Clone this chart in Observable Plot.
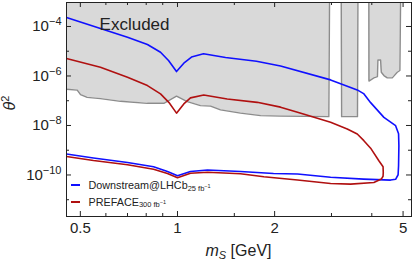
<!DOCTYPE html>
<html><head><meta charset="utf-8">
<script src="https://cdn.jsdelivr.net/npm/d3@7"></script>
<script src="https://cdn.jsdelivr.net/npm/@observablehq/plot@0.6"></script>
<style>
body{margin:0;background:#fff;}
#wrap{position:relative;width:415px;height:262px;font-family:"Liberation Sans",Arial,sans-serif;color:#222;}
.legend{position:absolute;left:71px;top:177px;font-size:10.8px;}
.legend .row{display:flex;align-items:center;height:16.5px;white-space:nowrap}
.legend .sw{width:9px;height:0;border-top:2px solid;margin-right:8.5px}
.legend .sb{font-size:7.5px;position:relative;top:3px}
.legend .sp{font-size:5.5px;position:relative;top:-3px}
</style></head><body><div id="wrap"></div>
<script>
// ---- data ----
const X_DOMAIN = [0.453, 5.31];
const Y_DOMAIN = [2.1e-12, 9.3e-4];
const Y_TOP = Y_DOMAIN[1];

const blueM = [0.453,0.590,0.700,0.807,0.886,0.938,0.993,1.051,1.105,1.204,1.409,1.757,2.086,2.981,3.606,3.773,3.967,4.361,4.741,4.842,4.853,4.842,4.826,4.741,4.574,3.773,2.981,2.355,1.984,1.567,1.239,1.097,1.0,0.931,0.843,0.700,0.549,0.453];
const blueT = [2.31e-4,7.56e-5,3.69e-5,1.87e-5,9.1e-6,4.2e-6,1.51e-6,3.49e-6,5.82e-6,7.85e-6,5.56e-6,3.94e-6,2.52e-6,6.95e-7,2.74e-7,1.94e-7,8.37e-8,2.13e-8,9.8e-9,4.66e-9,1.52e-9,2.36e-10,1.02e-10,6.7e-11,6.22e-11,6.82e-11,8.07e-11,1.09e-10,1.15e-10,1.39e-10,1.58e-10,1.39e-10,9.29e-11,1.39e-10,2.15e-10,3.21e-10,4.83e-10,7.02e-10];

const redM = [0.453,0.577,0.700,0.807,0.886,0.940,0.993,1.046,1.097,1.206,1.426,1.766,2.086,2.355,2.981,3.357,3.606,3.780,3.967,4.207,4.335,4.341,4.335,4.281,4.060,3.438,2.981,2.355,1.852,1.567,1.239,1.097,1.0,0.931,0.843,0.700,0.549,0.453];
const redT = [5.06e-6,2.25e-6,8.85e-7,4.08e-7,1.88e-7,8.61e-8,3.15e-8,7.41e-8,1.30e-7,1.69e-7,1.18e-7,8.61e-8,5.5e-8,3.39e-8,1.34e-8,7.22e-9,4.53e-9,2.43e-9,1.21e-9,3.76e-10,2.15e-10,1.26e-10,8.85e-11,6.82e-11,4.97e-11,4.28e-11,4.53e-11,6.22e-11,8.45e-11,1.12e-10,1.29e-10,1.17e-10,7.7e-11,1.15e-10,1.70e-10,2.59e-10,3.86e-10,5.61e-10];

const excl1M = [0.453,0.489,0.5006,0.525,0.577,0.666,0.806,0.907,0.993,1.072,1.178,1.266,1.359,1.567,1.809,2.086,2.944,2.959];
const excl1T = [2.90e-7,2.69e-7,1.77e-7,1.37e-7,1.22e-7,9.46e-8,7.85e-8,7.85e-8,1.53e-7,9.2e-8,6.34e-8,6.04e-8,4.25e-8,3.15e-8,2.49e-8,2.38e-8,2.27e-8,Y_TOP];
const excl2M = [3.217,3.225,3.612,3.623];
const excl2T = [Y_TOP,2.27e-8,2.27e-8,Y_TOP];
const excl3M = [3.917,3.920,4.060,4.165,4.178,4.259,4.281,4.361,4.467,4.629,4.797,4.888,4.912];
const excl3T = [Y_TOP,6.22e-7,8.38e-7,9.46e-7,4.41e-6,4.41e-6,1.41e-6,1.04e-6,8.38e-7,8.38e-7,1.41e-6,1.66e-6,Y_TOP];

const labelM = [0.736];
const labelT = [1.2e-4];
const labelText = ["Excluded"];

const xMajor = [0.5, 1, 2, 5];
const xMajorText = ["0.5", "1", "2", "5"];
const xMinor = [0.6, 0.7, 0.8, 0.9, 1.5, 3, 4];
const yMajor = [1e-10, 1e-8, 1e-6, 1e-4];
const yMajorExp = [-10, -8, -6, -4];
const yMinor = [1e-11, 1e-9, 1e-7, 1e-5];

// ---- build tables ----
const zip = (ms, ts) => ms.map((m, i) => ({m, t: ts[i]}));
const blue = zip(blueM, blueT);
const red = zip(redM, redT);
const blocks = [zip(excl1M, excl1T), zip(excl2M, excl2T), zip(excl3M, excl3T)];
const labels = labelM.map((m, i) => ({m, t: labelT[i], s: labelText[i]}));

const W = 415, H = 262, mL = 66, mR = 4, mT = 2, mB = 46;
const pw = W - mL - mR, ph = H - mT - mB;
const tickC = "#222";
const FILL = "#d9d9d9", EDGE = "#8c8c8c";

const marks = [];
for (const b of blocks) {
  marks.push(Plot.areaY(b, {x: "m", y1: "t", y2: () => Y_TOP, fill: FILL, clip: true}));
}
for (const b of blocks) {
  marks.push(Plot.line(b, {x: "m", y: "t", stroke: EDGE, strokeWidth: 1.4, clip: true}));
}
marks.push(
  Plot.line(blue, {x: "m", y: "t", stroke: "#1010ff", strokeWidth: 1.6, clip: true}),
  Plot.line(red, {x: "m", y: "t", stroke: "#b01010", strokeWidth: 1.6, clip: true}),
  Plot.text(labels, {x: "m", y: "t", text: "s", fontSize: 17, fill: "#222"}),
  Plot.frame({stroke: tickC, strokeWidth: 1}),
  // inward ticks on all four sides
  Plot.ruleX(xMajor, {x: d => d, insetTop: ph - 5, stroke: tickC}),
  Plot.ruleX(xMinor, {x: d => d, insetTop: ph - 3, stroke: tickC}),
  Plot.ruleX(xMajor, {x: d => d, insetBottom: ph - 5, stroke: tickC}),
  Plot.ruleX(xMinor, {x: d => d, insetBottom: ph - 3, stroke: tickC}),
  Plot.ruleY(yMajor, {y: d => d, insetRight: pw - 5, stroke: tickC}),
  Plot.ruleY(yMinor, {y: d => d, insetRight: pw - 3, stroke: tickC}),
  Plot.ruleY(yMajor, {y: d => d, insetLeft: pw - 5, stroke: tickC}),
  Plot.ruleY(yMinor, {y: d => d, insetLeft: pw - 3, stroke: tickC}),
  Plot.axisX(xMajor, {tickSize: 0, tickPadding: 6, fontSize: 15, label: null, text: (d, i) => xMajorText[i]}),
  Plot.axisY(yMajor, {tickSize: 0, tickPadding: 5, fontSize: 15, label: null, text: (d, i) => String(yMajorExp[i])})
);

const svg = Plot.plot({
  width: W, height: H,
  marginLeft: mL, marginRight: mR, marginTop: mT, marginBottom: mB,
  style: {fontFamily: "'Liberation Sans', Arial, sans-serif", color: "#222", background: "#fff", overflow: "visible"},
  x: {type: "log", domain: X_DOMAIN},
  y: {type: "log", domain: Y_DOMAIN},
  marks
});

// superscript exponents on the y tick labels
d3.select(svg).selectAll('[aria-label="y-axis tick label"] text').each(function() {
  const e = this.textContent;
  const t = d3.select(this);
  t.text(null);
  t.append("tspan").text("10");
  t.append("tspan").attr("dy", "-6").attr("font-size", 11).text("\u2212" + String(-e));
});

// axis titles
const s = d3.select(svg);
const xl = s.append("text").attr("x", mL + pw / 2).attr("y", 256).attr("text-anchor", "middle")
  .attr("font-size", 16).attr("fill", "#222");
xl.append("tspan").attr("font-style", "italic").text("m");
xl.append("tspan").attr("font-style", "italic").attr("font-size", 11).attr("dy", 3).text("S");
xl.append("tspan").attr("dy", -3).text(" [GeV]");
const yl = s.append("text").attr("transform", "translate(14.5,103) rotate(-90)").attr("text-anchor", "middle")
  .attr("font-size", 16).attr("fill", "#222");
yl.append("tspan").attr("font-style", "italic").text("θ");
yl.append("tspan").attr("font-size", 11).attr("dy", -6).text("2");

const wrap = document.getElementById("wrap");
wrap.appendChild(svg);
const leg = document.createElement("div");
leg.className = "legend";
leg.innerHTML =
  '<div class="row"><span class="sw" style="border-color:#1010ff"></span>Downstream@LHCb<span class="sb">25 fb<span class="sp">\u22121</span></span></div>' +
  '<div class="row"><span class="sw" style="border-color:#b01010"></span>PREFACE<span class="sb">300 fb<span class="sp">\u22121</span></span></div>';
wrap.appendChild(leg);
</script></body></html>
